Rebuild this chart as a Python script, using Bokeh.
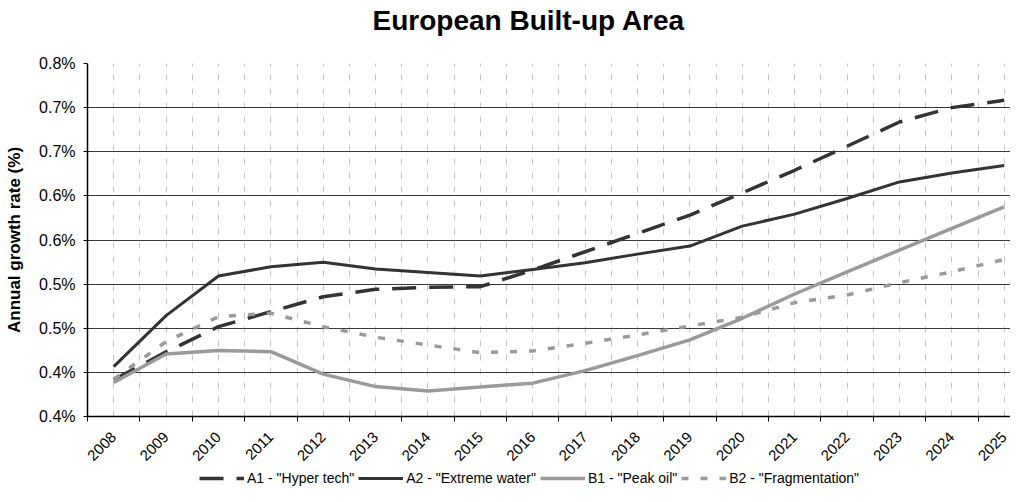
import math
from bokeh.plotting import figure
from bokeh.layouts import column
from bokeh.models import Range1d, FixedTicker, Legend, LegendItem
from bokeh.embed import file_html
from bokeh.resources import INLINE

# ---- data ----
years = ["2008", "2009", "2010", "2011", "2012", "2013", "2014", "2015", "2016",
         "2017", "2018", "2019", "2020", "2021", "2022", "2023", "2024", "2025"]

a1_hyper_tech = [0.4415, 0.4732, 0.5018, 0.5188, 0.5357, 0.5441, 0.5464, 0.5471, 0.5660,
                 0.5867, 0.6075, 0.6282, 0.6534, 0.6790, 0.7062, 0.7337, 0.7500, 0.7583]
a2_extreme_water = [0.4566, 0.5143, 0.5592, 0.5697, 0.5747, 0.5671, 0.5633, 0.5592, 0.5667,
                    0.5742, 0.5840, 0.5931, 0.6157, 0.6293, 0.6470, 0.6658, 0.6760, 0.6844]
b1_peak_oil = [0.4385, 0.4709, 0.4747, 0.4735, 0.4480, 0.4339, 0.4290, 0.4333, 0.4378,
               0.4520, 0.4690, 0.4868, 0.5113, 0.5388, 0.5640, 0.5886, 0.6131, 0.6376]
b2_fragmentation = [0.4423, 0.4848, 0.5131, 0.5170, 0.5018, 0.4898, 0.4811, 0.4724, 0.4743,
                    0.4830, 0.4924, 0.5026, 0.5124, 0.5290, 0.5377, 0.5516, 0.5640, 0.5780]

series_labels = ['A1 - "Hyper tech"', 'A2 - "Extreme water"', 'B1 - "Peak oil"', 'B2 - "Fragmentation"']

y_ticks = [0.40, 0.45, 0.50, 0.55, 0.60, 0.65, 0.70, 0.75, 0.80]
y_tick_labels = ["0.4%", "0.4%", "0.5%", "0.5%", "0.6%", "0.6%", "0.7%", "0.7%", "0.8%"]

title_text = "European Built-up Area"
y_title = "Annual growth rate (%)"

# ---- positions (category centres / boundaries) ----
n = len(years)
centers = [i + 0.5 for i in range(n)]
bounds = [float(i) for i in range(n)]

FONT = "Liberation Sans"

# series styles
styles = [
    dict(line_color="#333333", line_width=3.5, line_dash="24 13"),
    dict(line_color="#333333", line_width=3, line_dash="solid"),
    dict(line_color="#9a9a9a", line_width=3.5, line_dash="solid"),
    dict(line_color="#9a9a9a", line_width=3.5, line_dash="7 12"),
]
series = [a1_hyper_tech, a2_extreme_water, b1_peak_oil, b2_fragmentation]

# ---- title strip ----
tf = figure(width=1010, height=48, x_range=Range1d(0, 1), y_range=Range1d(0, 1),
            x_axis_type=None, y_axis_type=None,
            output_backend="svg", toolbar_location=None, min_border=0)
tf.outline_line_color = None
tf.background_fill_color = "white"
tf.border_fill_color = "white"
tf.title.text = title_text
tf.title.align = "left"
tf.title.offset = 285
tf.title.vertical_align = "top"
tf.title.text_font = FONT
tf.title.text_font_style = "bold"
tf.title.text_font_size = "28px"
tf.title.text_color = "black"
tf.title.standoff = 9

# ---- main chart ----
p = figure(width=1010, height=420,
           x_range=Range1d(0, 17.62), y_range=Range1d(0.40, 0.80),
           output_backend="svg", toolbar_location=None,
           min_border_left=87, min_border_right=0, min_border_top=15, min_border_bottom=50)
p.outline_line_color = None
p.background_fill_color = "white"
p.border_fill_color = "white"

# x axis
xt = FixedTicker(ticks=centers, minor_ticks=bounds)
p.xaxis.ticker = xt
p.xaxis.major_label_overrides = {c: y for c, y in zip(centers, years)}
p.xaxis.major_label_orientation = math.pi / 4
p.xaxis.major_label_text_font = FONT
p.xaxis.major_label_text_font_size = "15px"
p.xaxis.major_label_text_color = "black"
p.xaxis.major_label_standoff = 13
p.xaxis.major_tick_out = 0
p.xaxis.major_tick_in = 0
p.xaxis.minor_tick_out = 5
p.xaxis.minor_tick_in = 0
p.xaxis.minor_tick_line_color = "black"
p.xaxis.axis_line_color = "black"
p.xaxis.axis_line_width = 1.5

# y axis
p.yaxis.ticker = FixedTicker(ticks=y_ticks)
p.yaxis.major_label_overrides = {t: l for t, l in zip(y_ticks, y_tick_labels)}
p.yaxis.major_label_text_font = FONT
p.yaxis.major_label_text_font_size = "16px"
p.yaxis.major_label_text_color = "black"
p.yaxis.major_label_standoff = 8
p.yaxis.major_tick_out = 4
p.yaxis.major_tick_in = 0
p.yaxis.minor_tick_out = 0
p.yaxis.minor_tick_in = 0
p.yaxis.axis_line_color = "black"
p.yaxis.axis_line_width = 1.5
p.yaxis.axis_label = y_title
p.yaxis.axis_label_text_font = FONT
p.yaxis.axis_label_text_font_style = "bold"
p.yaxis.axis_label_text_font_size = "17px"
p.yaxis.axis_label_text_color = "black"
p.yaxis.axis_label_standoff = 12

# grids
p.xgrid.ticker = xt
p.xgrid.grid_line_color = "#c4c4c4"
p.xgrid.grid_line_dash = "6 8"
p.xgrid.grid_line_width = 1
p.xgrid.minor_grid_line_color = "#c4c4c4"
p.xgrid.minor_grid_line_dash = "6 8"
p.xgrid.minor_grid_line_width = 1
p.ygrid.grid_line_color = "#3a3a3a"
p.ygrid.grid_line_width = 1

# lines
for vals, st in zip(series, styles):
    p.line(centers, vals, **st)

# ---- legend strip (separate small figure, proxy lines kept out of view) ----
lg = figure(width=1010, height=18, x_range=Range1d(0, 1), y_range=Range1d(10, 11),
            x_axis_type=None, y_axis_type=None,
            output_backend="svg", toolbar_location=None, min_border=0)
lg.outline_line_color = None
lg.background_fill_color = "white"
lg.border_fill_color = "white"
proxies = [lg.line(centers, vals, **st) for vals, st in zip(series, styles)]

legend = Legend(items=[LegendItem(label=lab, renderers=[r]) for lab, r in zip(series_labels, proxies)],
                orientation="horizontal", location=(112, 0),
                label_text_font=FONT, label_text_font_size="14px", label_text_color="black",
                glyph_width=45, glyph_height=12, label_standoff=3, spacing=4,
                padding=0, margin=0, border_line_color=None, background_fill_alpha=0)
lg.add_layout(legend)

layout = column(tf, p, lg, spacing=0)
open("out.html", "w").write(file_html(layout, INLINE))
